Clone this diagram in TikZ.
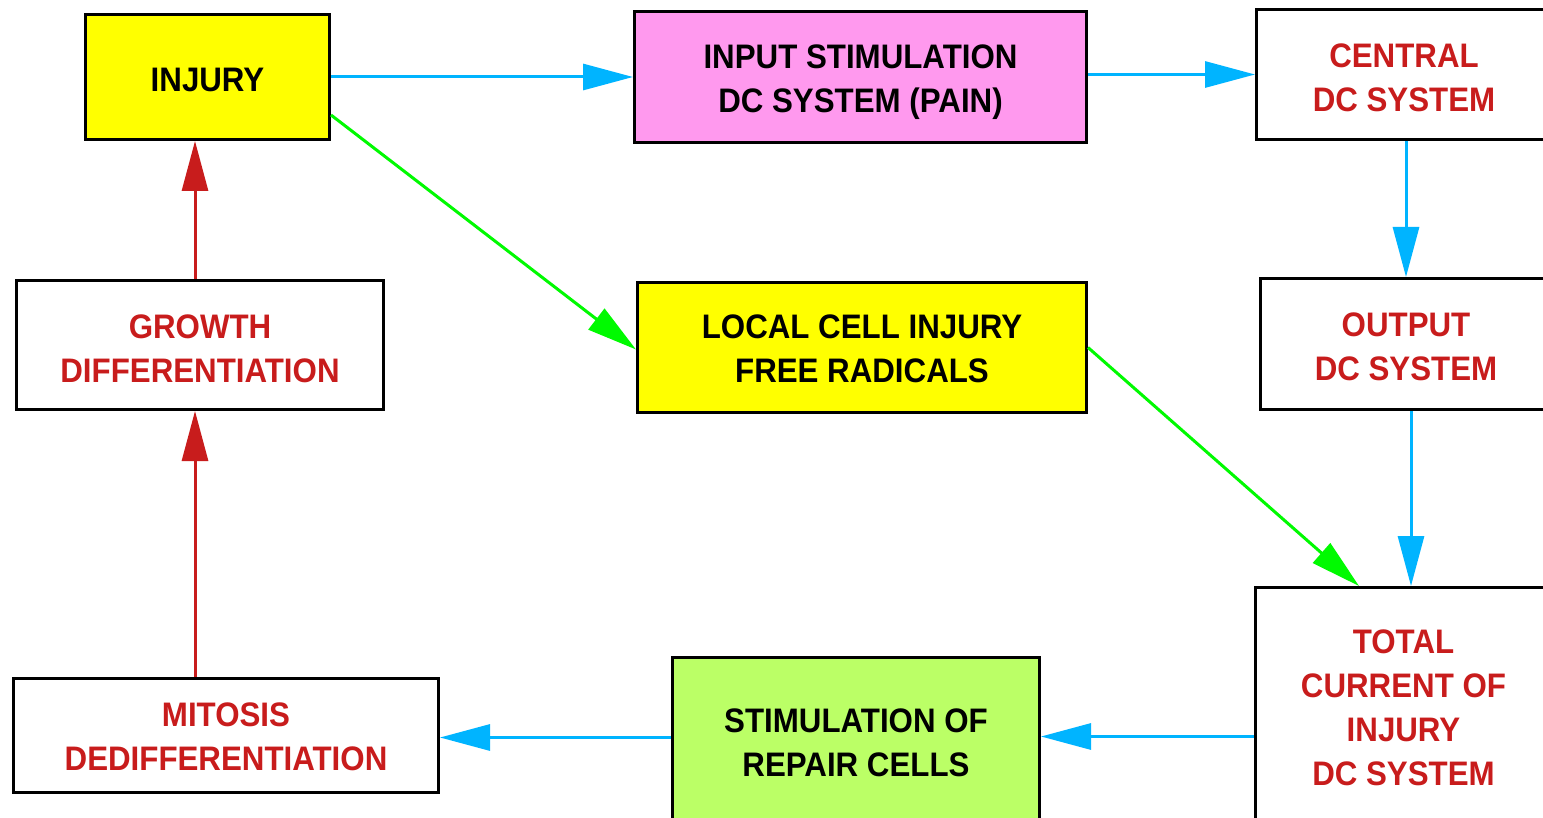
\documentclass[tikz,border=0pt]{standalone}
\usepackage{fontspec}
\setmainfont{Liberation Sans}
\newfontfamily\labfont[FakeStretch=0.92]{Liberation Sans}
\usetikzlibrary{arrows.meta,calc}
\definecolor{dcred}{RGB}{200,28,28}
\definecolor{dcblue}{RGB}{0,180,255}
\definecolor{dcgreen}{RGB}{0,250,0}
\definecolor{dcpink}{RGB}{255,153,238}
\definecolor{dcyellow}{RGB}{255,255,0}
\definecolor{dclime}{RGB}{187,255,102}
\begin{document}
\begin{tikzpicture}[x=1pt,y=-1pt,
  box/.style={draw=black, line width=3pt, fill=white, rectangle, inner sep=0pt,
    anchor=north west},
  txt/.style={inner sep=0pt, align=center, font=\labfont\fontsize{34}{44}\selectfont\bfseries},
  redtxt/.style={txt, text=dcred},
  conn/.style={line width=3pt, -{Triangle[length=50pt,width=26pt]}},
  bluec/.style={conn, dcblue},
  redc/.style={conn, dcred},
  greenc/.style={conn, dcgreen}]
\useasboundingbox (0,0) rectangle (1543,818);
\fill[white] (0,0) rectangle (1543,818);
% boxes
\node[box, fill=dcyellow, minimum width=244pt, minimum height=125pt,
  label={[txt,yshift=-3pt]center:{INJURY}}] (inj) at (84,13) {};
\node[box, fill=dcpink, minimum width=452pt, minimum height=131pt,
  label={[txt,yshift=-5pt]center:{INPUT STIMULATION\\DC SYSTEM (PAIN)}}] (inp) at (633,10) {};
\node[box, minimum width=295pt, minimum height=130pt,
  label={[redtxt,yshift=-3pt]center:{CENTRAL\\DC SYSTEM}}] (cen) at (1255,8) {};
\node[box, minimum width=367pt, minimum height=129pt,
  label={[redtxt,yshift=-4pt]center:{GROWTH\\DIFFERENTIATION}}] (gro) at (15,279) {};
\node[box, fill=dcyellow, minimum width=449pt, minimum height=130pt,
  label={[txt,yshift=-1pt]center:{LOCAL CELL INJURY\\FREE RADICALS}}] (loc) at (636,281) {};
\node[box, minimum width=291pt, minimum height=131pt,
  label={[redtxt,yshift=-3pt]center:{OUTPUT\\DC SYSTEM}}] (out) at (1259,277) {};
\node[box, minimum width=296pt, minimum height=244pt,
  label={[redtxt,yshift=2pt]center:{TOTAL\\CURRENT OF\\INJURY\\DC SYSTEM}}] (tot) at (1254,586) {};
\node[box, fill=dclime, minimum width=367pt, minimum height=172pt,
  label={[txt,yshift=1pt]center:{STIMULATION OF\\REPAIR CELLS}}] (sti) at (671,656) {};
\node[box, minimum width=425pt, minimum height=114pt,
  label={[redtxt,yshift=-1pt]center:{MITOSIS\\DEDIFFERENTIATION}}] (mit) at (12,677) {};
% connectors
\draw[bluec] (inj.east) -- (inj.east -| inp.west);
\draw[bluec] (inp.east |- cen.west) -- (cen.west);
\draw[bluec] ([xshift=2pt]cen.south) -- ([xshift=2pt]cen.south |- out.north);
\draw[bluec] ([xshift=5pt]out.south) -- ([xshift=5pt]out.south |- tot.north);
\draw[bluec] ([yshift=-27pt]tot.west) -- ([yshift=-27pt]tot.west -| sti.east);
\draw[bluec] ([yshift=6pt]sti.west) -- ([yshift=6pt]sti.west -| mit.east);
\draw[redc] (mit.north -| 195,0) -- (gro.south -| 195,0);
\draw[redc] (gro.north -| 195,0) -- (inj.south -| 195,0);
\draw[greenc] ([yshift=-38pt]inj.east) -- ([yshift=-2pt]loc.west);
\draw[greenc] (loc.east) -- ([xshift=105pt]tot.north west);
\end{tikzpicture}
\end{document}
